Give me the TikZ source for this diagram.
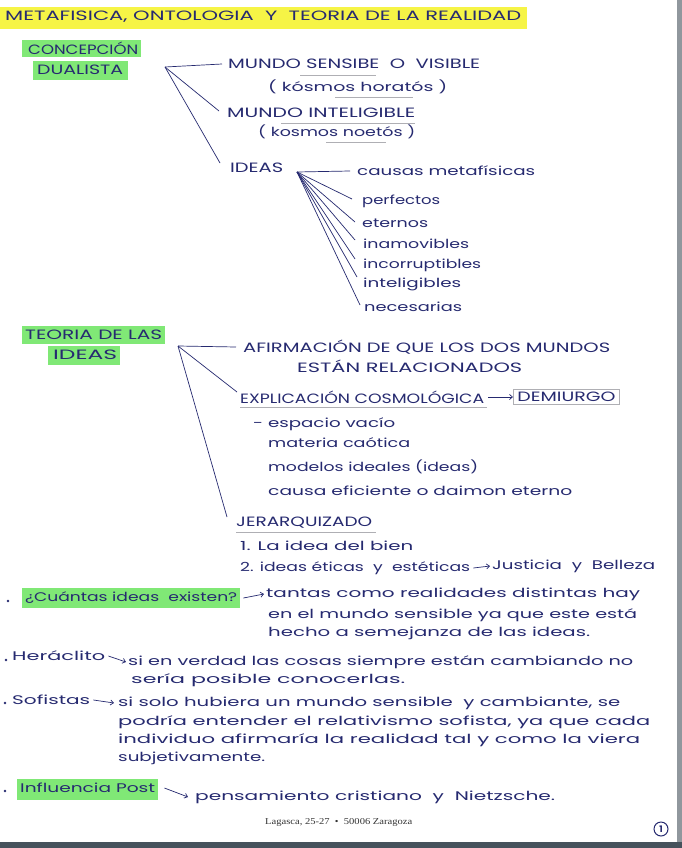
\documentclass[tikz,border=0pt]{standalone}
\usepackage{fontspec}
\setmainfont{Poppins}
\newfontfamily\footfont{Liberation Serif}
\usetikzlibrary{arrows.meta}
\definecolor{inkc}{RGB}{38,42,112}
\definecolor{hly}{RGB}{246,244,70}
\definecolor{hlg}{RGB}{128,232,118}
\definecolor{ulgray}{RGB}{175,175,180}
\definecolor{edgec}{RGB}{70,82,92}
\newcommand{\hw}[2]{\resizebox{#1pt}{\height}{#2}}
\tikzset{
  ink/.style={text=inkc, inner sep=0pt, anchor=west},
  lc/.style={ink, font=\fontsize{12.5}{14}\selectfont},
  uc/.style={ink, font=\fontsize{13.5}{15}\selectfont},
  br/.style={draw=inkc, line width=0.7pt},
  ul/.style={draw=ulgray, line width=0.9pt},
  hlyel/.style={fill=hly, draw=none},
  hlgrn/.style={fill=hlg, draw=none},
  harrow/.style={draw=inkc, line width=0.7pt, -{Straight Barb[length=3pt,width=5pt]}},
  bul/.style={fill=inkc, circle, inner sep=0pt, minimum size=2.6pt},
}
\begin{document}
\begin{tikzpicture}[x=1pt,y=-1pt]
\useasboundingbox (0,0) rectangle (682,848);
\fill[white] (0,0) rectangle (682,848);
% paper edges
\fill[edgec!60] (677,0) rectangle (682,848);
\fill[edgec] (0,842) rectangle (682,848);

% highlights
\fill[hlyel] (0,7) rectangle (527,29);
\fill[hlgrn] (22,40) rectangle (141,57);
\fill[hlgrn] (33,61) rectangle (128,80);
\fill[hlgrn] (22,326) rectangle (165,344);
\fill[hlgrn] (48,346) rectangle (120,365);
\fill[hlgrn] (22,588) rectangle (240,608);
\fill[hlgrn] (17,779) rectangle (158,800);

% title
\node[uc] (title) at (5,17) {\hw{516}{METAFISICA, ONTOLOGIA \ Y \ TEORIA DE LA REALIDAD}};

% Concepcion dualista
\node[uc] (c1) at (28,48) {\hw{110}{CONCEPCIÓN}};
\node[uc] (c2) at (37,70) {\hw{86}{DUALISTA}};
\coordinate (h1) at (165,67);
\node[uc] (ms) at (228,64) {\hw{252}{MUNDO SENSIBE \ O \ VISIBLE}};
\node[lc] (ms2) at (268,87) {\hw{179}{( kósmos horatós )}};
\node[uc] (mi) at (227,113) {\hw{188}{MUNDO INTELIGIBLE}};
\node[lc] (mi2) at (258,132) {\hw{157}{( kosmos noetós )}};
\node[uc] (id) at (230,168) {\hw{53}{IDEAS}};
\draw[br] (h1) -- ([xshift=-6pt]ms.west);
\draw[br] (h1) -- ([shift={(-8,-2)}]mi.west);
\draw[br] (h1) -- ([shift={(-10,-5)}]id.west);
\draw[ul] (300,75) -- (376,75);
\draw[ul] (335,97) -- (413,97);
\draw[ul] (281,123) -- (415,123);
\draw[ul] (326,142) -- (386,142);

% ideas characteristics
\coordinate (h2) at (297,172);
\node[lc] (ca) at (357,171) {\hw{178}{causas metafísicas}};
\node[lc] (pe) at (362,201) {\hw{78}{perfectos}};
\node[lc] (et) at (362,223) {\hw{66}{eternos}};
\node[lc] (ina) at (363,244) {\hw{106}{inamovibles}};
\node[lc] (inc) at (363,265) {\hw{118}{incorruptibles}};
\node[lc] (inl) at (363,284) {\hw{98}{inteligibles}};
\node[lc] (ne) at (364,307) {\hw{98}{necesarias}};
\draw[br] (h2) -- ([xshift=-7pt]ca.west);
\draw[br] (h2) -- ([shift={(-10,-2)}]pe.west);
\draw[br] (h2) -- ([shift={(-7,-1)}]et.west);
\draw[br] (h2) -- ([shift={(-8,-4)}]ina.west);
\draw[br] (h2) -- ([shift={(-8,-6)}]inc.west);
\draw[br] (h2) -- ([shift={(-6,-7)}]inl.west);
\draw[br] (h2) -- ([shift={(-4,-2)}]ne.west);

% Teoria de las ideas
\node[uc] (t1) at (25,335) {\hw{137}{TEORIA DE LAS}};
\node[uc] (t2) at (53,355) {\hw{64}{IDEAS}};
\coordinate (h3) at (178,346);
\node[uc] (af) at (243,347) {\hw{367}{AFIRMACIÓN DE QUE LOS DOS MUNDOS}};
\node[uc] (af2) at (297,366) {\hw{225}{ESTÁN RELACIONADOS}};
\node[uc] (ex) at (240,397) {\hw{244}{EXPLICACIÓN COSMOLÓGICA}};
\node[uc, draw=ulgray, line width=0.9pt, inner xsep=4pt, inner ysep=3pt] (de) at (513,397) {\hw{98}{DEMIURGO}};
\draw[harrow] ([xshift=4pt]ex.east) -- (de.west);
\draw[ul] (240,407) -- (487,407);
\node[lc] (l1) at (253,424) {\hw{142}{- espacio vacío}};
\node[lc] (l2) at (268,443) {\hw{142}{materia caótica}};
\node[lc] (l3) at (268,467) {\hw{210}{modelos ideales (ideas)}};
\node[lc] (l4) at (268,491) {\hw{304}{causa eficiente o daimon eterno}};
\node[uc] (je) at (236,523) {\hw{136}{JERARQUIZADO}};
\draw[ul] (236,532) -- (376,532);
\node[lc] (j1) at (240,546) {\hw{173}{1. La idea del bien}};
\node[lc] (j2) at (240,568) {\hw{230}{2. ideas éticas \ y \ estéticas}};
\node[lc] (j3) at (492,566) {\hw{163}{Justicia \ y \ Belleza}};
\draw[harrow] ([xshift=3pt]j2.east) -- ([xshift=-2pt]j3.west);
\draw[br] (h3) -- ([xshift=-7pt]af.west);
\draw[br] (h3) -- ([shift={(-3,-5)}]ex.west);
\draw[br] (h3) -- ([shift={(-9,-6)}]je.west);

% Cuantas ideas
\node[bul] (bu1) at (8,601) {};
\node[lc] (q1) at (25,598) {\hw{212}{¿Cuántas ideas \ existen?}};
\node[lc] (q2) at (266,594) {\hw{374}{tantas como realidades distintas hay}};
\node[lc] (q3) at (268,615) {\hw{369}{en el mundo sensible ya que este está}};
\node[lc] (q4) at (268,633) {\hw{322}{hecho a semejanza de las ideas.}};
\draw[harrow] ([xshift=6pt]q1.east) -- ([xshift=-2pt]q2.west);

% Heraclito
\node[bul] (bu2) at (6,660) {};
\node[lc] (hr) at (12,656) {\hw{93}{Heráclito}};
\node[lc] (hr2) at (128,662) {\hw{505}{si en verdad las cosas siempre están cambiando no}};
\node[lc] (hr3) at (131,680) {\hw{274}{sería posible conocerlas.}};
\draw[harrow] ([xshift=3pt]hr.east) -- ([xshift=-2pt]hr2.west);

% Sofistas
\node[bul] (bu3) at (5,703) {};
\node[lc] (so) at (12,700) {\hw{78}{Sofistas}};
\node[lc] (so2) at (118,703) {\hw{502}{si solo hubiera un mundo sensible \ y cambiante, se}};
\node[lc] (so3) at (118,722) {\hw{532}{podría entender el relativismo sofista, ya que cada}};
\node[lc] (so4) at (118,740) {\hw{522}{individuo afirmaría la realidad tal y como la viera}};
\node[lc] (so5) at (118,758) {\hw{147}{subjetivamente.}};
\draw[harrow] ([xshift=3pt]so.east) -- ([xshift=-4pt]so2.west);

% Influencia
\node[bul] (bu4) at (5,791) {};
\node[lc] (inf) at (20,788) {\hw{135}{Influencia Post}};
\node[lc] (inf2) at (195,797) {\hw{360}{pensamiento cristiano \ y \ Nietzsche.}};
\draw[harrow] ([xshift=9pt]inf.east) -- ([xshift=-7pt]inf2.west);

% footer
\node[inner sep=0pt, anchor=west, text=black!80, font=\footfont\fontsize{9}{10}\selectfont] (foot) at (265,822) {\hw{147}{Lagasca, 25-27 \ \textbullet\ \ 50006 Zaragoza}};
\node[draw=inkc, text=inkc, circle, line width=1pt, inner sep=0.8pt, minimum size=14pt] (pg) at (661,829) {\bfseries\fontsize{9}{9}\selectfont 1};
\end{tikzpicture}
\end{document}
